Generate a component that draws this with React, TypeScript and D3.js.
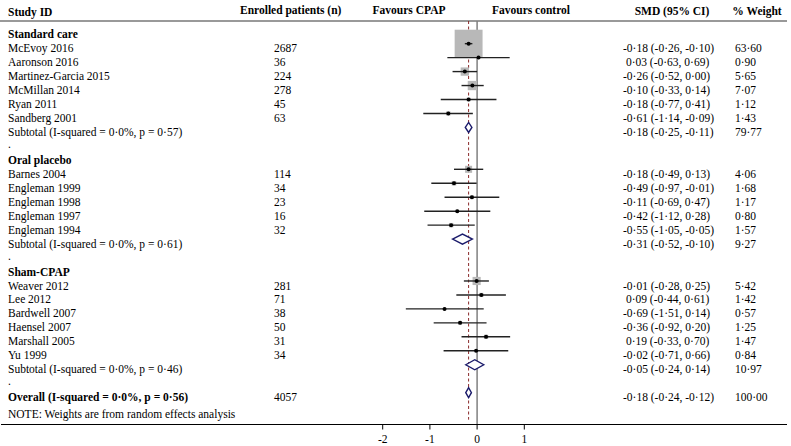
import React from "react";
import * as d3 from "d3";

// ---------- data ----------
type Row =
  | { kind: "group"; label: string }
  | { kind: "study"; label: string; n: string; est: number; lo: number; hi: number; w: number; ci: string; wt: string }
  | { kind: "sub"; label: string; n?: string; est: number; lo: number; hi: number; ci: string; wt: string; bold?: boolean }
  | { kind: "dot" };

const groupNames = ["Standard care", "Oral placebo", "Sham-CPAP"];

const studyNames = [
  ["McEvoy 2016", "Aaronson 2016", "Martinez-Garcia 2015", "McMillan 2014", "Ryan 2011", "Sandberg 2001"],
  ["Barnes 2004", "Engleman 1999", "Engleman 1998", "Engleman 1997", "Engleman 1994"],
  ["Weaver 2012", "Lee 2012", "Bardwell 2007", "Haensel 2007", "Marshall 2005", "Yu 1999"],
];
const enrolled = [
  ["2687", "36", "224", "278", "45", "63"],
  ["114", "34", "23", "16", "32"],
  ["281", "71", "38", "50", "31", "34"],
];
const smd = [
  [-0.18, 0.03, -0.26, -0.1, -0.18, -0.61],
  [-0.18, -0.49, -0.11, -0.42, -0.55],
  [-0.01, 0.09, -0.69, -0.36, 0.19, -0.02],
];
const ciLow = [
  [-0.26, -0.63, -0.52, -0.33, -0.77, -1.14],
  [-0.49, -0.97, -0.69, -1.12, -1.05],
  [-0.28, -0.44, -1.51, -0.92, -0.33, -0.71],
];
const ciHigh = [
  [-0.1, 0.69, 0.0, 0.14, 0.41, -0.09],
  [0.13, -0.01, 0.47, 0.28, -0.05],
  [0.25, 0.61, 0.14, 0.2, 0.7, 0.66],
];
const weights = [
  [63.6, 0.9, 5.65, 7.07, 1.12, 1.43],
  [4.06, 1.68, 1.17, 0.8, 1.57],
  [5.42, 1.42, 0.57, 1.25, 1.47, 0.84],
];
const subtotalLabels = [
  "Subtotal  (I-squared = 0·0%, p = 0·57)",
  "Subtotal  (I-squared = 0·0%, p = 0·61)",
  "Subtotal  (I-squared = 0·0%, p = 0·46)",
];
const subtotalEst = [-0.18, -0.31, -0.05];
const subtotalLo = [-0.25, -0.52, -0.24];
const subtotalHi = [-0.11, -0.1, 0.14];
const subtotalWeight = [79.77, 9.27, 10.97];

const overallLabel = "Overall  (I-squared = 0·0%, p = 0·56)";
const overallN = "4057";
const overallEst = -0.18;
const overallLo = -0.24;
const overallHi = -0.12;
const overallWeight = 100.0;

const xTicks = [-2, -1, 0, 1];

// ---------- helpers ----------
const fmt = (v: number) => {
  const s = Math.abs(v).toFixed(2).replace(".", "·");
  return (v < 0 ? "-" : "") + s;
};
const ciText = (e: number, l: number, h: number) =>
  `${e < 0 ? "" : " "}${fmt(e)} (${fmt(l)}, ${fmt(h)})`;

const rows: Row[] = [];
groupNames.forEach((g, gi) => {
  rows.push({ kind: "group", label: g });
  studyNames[gi].forEach((s, si) => {
    const e = smd[gi][si], l = ciLow[gi][si], h = ciHigh[gi][si], w = weights[gi][si];
    rows.push({ kind: "study", label: s, n: enrolled[gi][si], est: e, lo: l, hi: h, w, ci: ciText(e, l, h), wt: fmt(w) });
  });
  rows.push({
    kind: "sub", label: subtotalLabels[gi], est: subtotalEst[gi], lo: subtotalLo[gi], hi: subtotalHi[gi],
    ci: ciText(subtotalEst[gi], subtotalLo[gi], subtotalHi[gi]), wt: fmt(subtotalWeight[gi]),
  });
  rows.push({ kind: "dot" });
});
rows.push({
  kind: "sub", label: overallLabel, n: overallN, est: overallEst, lo: overallLo, hi: overallHi,
  ci: ciText(overallEst, overallLo, overallHi), wt: fmt(overallWeight), bold: true,
});

// ---------- layout ----------
const W = 791, H = 446;
const FONT = "'Liberation Serif', 'Times New Roman', serif";
const FS = 11.5;
const row0 = 29.7;
const rowH = 13.96;
const textDy = 4.5;
const x = d3.scaleLinear().domain([-2, 1]).range([382.7, 524.3]);
const yRow = (i: number) => row0 + i * rowH;
const headerLineY = 21;
const axisY = 424.5;
const boxK = 3.5;

const colStudy = 8;
const colN = 274;
const colCI = 623;
const colWt = 735;

export default function App() {
  const overallIdx = rows.length - 1;
  const dashEndY = yRow(overallIdx) + 27;
  return (
    <svg width={W} height={H} style={{ position: "absolute", left: 0, top: 0, background: "#fff" }} fontFamily={FONT} fontSize={FS}>
      <rect x={0} y={0} width={W} height={H} fill="#fff" />
      {/* headers */}
      <g fontWeight="bold" fill="#000">
        <text x={colStudy} y={12} dy="0.35em">Study ID</text>
        <text x={240} y={10} dy="0.35em">Enrolled patients (n)</text>
        <text x={409} y={10} dy="0.35em" textAnchor="middle">Favours CPAP</text>
        <text x={531} y={10} dy="0.35em" textAnchor="middle">Favours control</text>
        <text x={672} y={11} dy="0.35em" textAnchor="middle">SMD (95% CI)</text>
        <text x={757} y={11} dy="0.35em" textAnchor="middle">% Weight</text>
      </g>
      <line x1={0} x2={787} y1={headerLineY} y2={headerLineY} stroke="#777" strokeWidth={1.5} />

      {/* zero line */}
      <line x1={x(0)} x2={x(0)} y1={headerLineY} y2={axisY} stroke="#808080" strokeWidth={1.5} />
      {/* overall dashed line */}
      <line x1={x(overallEst)} x2={x(overallEst)} y1={headerLineY} y2={dashEndY} stroke="#8b2a2a" strokeWidth={1} strokeDasharray="3,2.5" />

      {/* rows */}
      {rows.map((r, i) => {
        const y = yRow(i);
        const ty = y + textDy;
        if (r.kind === "group") {
          return <text key={i} x={colStudy} y={ty} dy="0.35em" fontWeight="bold">{r.label}</text>;
        }
        if (r.kind === "dot") {
          return <text key={i} x={colStudy} y={ty - 2} dy="0.35em">.</text>;
        }
        if (r.kind === "study") {
          const s = boxK * Math.sqrt(r.w);
          return (
            <g key={i}>
              <text x={colStudy} y={ty} dy="0.35em">{r.label}</text>
              <text x={colN} y={ty} dy="0.35em">{r.n}</text>
              <text x={colCI} y={ty} dy="0.35em" style={{ whiteSpace: "pre" }}>{r.ci}</text>
              <text x={colWt} y={ty} dy="0.35em">{r.wt}</text>
              <rect x={x(r.est) - s / 2} y={y - s / 2} width={s} height={s} fill="#b8b8b8" />
              <line x1={x(r.lo)} x2={x(r.hi)} y1={y} y2={y} stroke="#222" strokeWidth={1.4} />
              <circle cx={x(r.est)} cy={y} r={2} fill="#000" />
            </g>
          );
        }
        const hh = 5;
        const dPath = `M${x(r.lo)},${y} L${x(r.est)},${y - hh} L${x(r.hi)},${y} L${x(r.est)},${y + hh} Z`;
        return (
          <g key={i}>
            <text x={colStudy} y={ty} dy="0.35em" fontWeight={r.bold ? "bold" : "normal"}>{r.label}</text>
            {r.n && <text x={colN} y={ty} dy="0.35em">{r.n}</text>}
            <text x={colCI} y={ty} dy="0.35em" style={{ whiteSpace: "pre" }}>{r.ci}</text>
            <text x={colWt} y={ty} dy="0.35em">{r.wt}</text>
            <path d={dPath} fill="#fff" stroke="#1b1b6b" strokeWidth={1.4} />
          </g>
        );
      })}

      <text x={colStudy} y={414} dy="0.35em">NOTE: Weights are from random effects analysis</text>

      {/* axis */}
      <line x1={1} x2={787} y1={axisY} y2={axisY} stroke="#000" strokeWidth={1.2} />
      {xTicks.map((t) => (
        <g key={t}>
          <line x1={x(t)} x2={x(t)} y1={axisY} y2={axisY + 5} stroke="#000" strokeWidth={1} />
          <text x={x(t)} y={438.5} dy="0.35em" textAnchor="middle" fontSize={11.5}>{t}</text>
        </g>
      ))}
    </svg>
  );
}
